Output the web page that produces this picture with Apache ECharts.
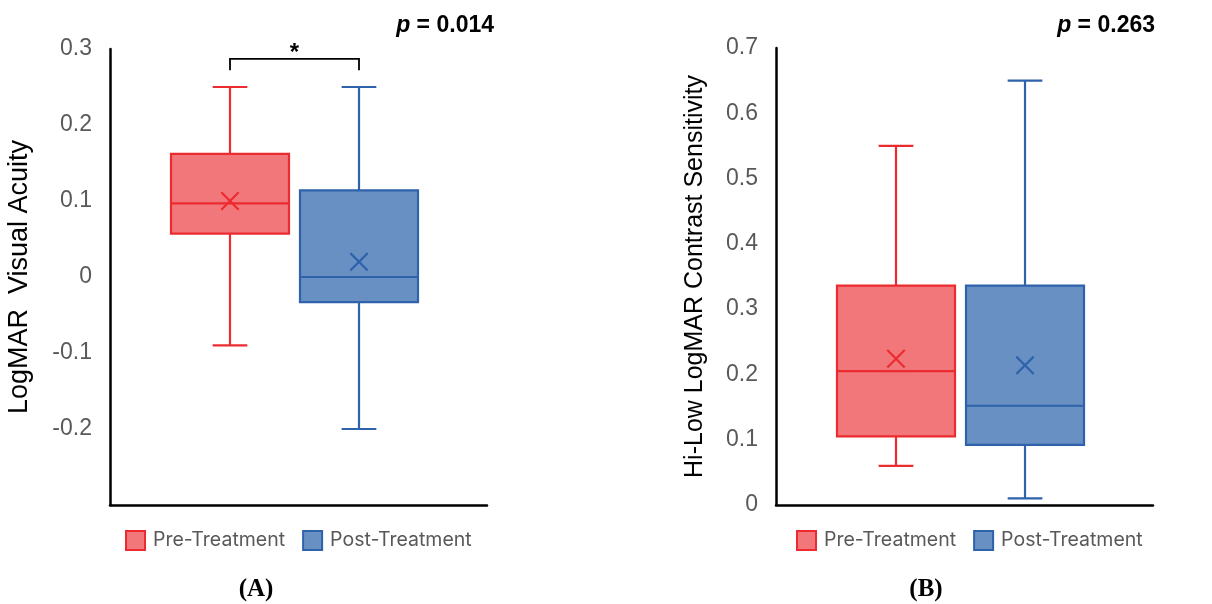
<!DOCTYPE html>
<html>
<head>
<meta charset="utf-8">
<script src="https://cdn.jsdelivr.net/npm/echarts@6/dist/echarts.min.js"></script>
<style>
html,body{margin:0;padding:0;background:#fff;}
#chart{width:1212px;height:604px;}
</style>
</head>
<body>
<div id="chart"></div>
<script>
// ---------- data ----------
const groups = ['Pre-Treatment', 'Post-Treatment'];
// each: [min, Q1, median, Q3, max, mean]
const acuityPre = [-0.09, 0.057, 0.097, 0.162, 0.25, 0.10];
const acuityPost = [-0.20, -0.033, 0.0, 0.114, 0.25, 0.02];
const contrastPre = [0.06, 0.105, 0.205, 0.336, 0.55, 0.224];
const contrastPost = [0.01, 0.092, 0.152, 0.336, 0.65, 0.214];
const acuityTickLabels = ['-0.2', '-0.1', '0', '0.1', '0.2', '0.3'];
const contrastTickLabels = ['0', '0.1', '0.2', '0.3', '0.4', '0.5', '0.6', '0.7'];
const acuityRange = [-0.3, 0.3];
const contrastRange = [0, 0.7];
const tickStep = 0.1;
const yTitles = ['LogMAR  Visual Acuity', 'Hi-Low LogMAR Contrast Sensitivity'];
const pValues = ['0.014', '0.263'];
const panelLabels = ['(A)', '(B)'];
// significance bracket: [bottom of ends, top bar] in LogMAR units
const bracketLevels = [0.272, 0.287];
const bracketMark = '*';

// ---------- styles ----------
const fills = ['#F2777A', '#6990C3'];
const borders = ['#EC2B30', '#2E62AA'];
const offsets = [-0.1817, 0.1605];   // box centre offset as fraction of band
const halfBox = 0.1565;
const halfCap = 0.046;
const halfX = 0.023;

function boxRender(gi) {
  return function (params, api) {
    const band = api.size([1, 0])[0];
    const cx = api.coord([0, 0])[0] + band * offsets[gi];
    const y = i => api.coord([0, api.value(i)])[1];
    const yMin = y(1), yQ1 = y(2), yMed = y(3), yQ3 = y(4), yMax = y(5), yMean = y(6);
    const hb = band * halfBox, hc = band * halfCap, hx = band * halfX;
    const ls = {stroke: borders[gi], lineWidth: 2.2};
    return {
      type: 'group',
      children: [
        {type: 'line', shape: {x1: cx, y1: yQ3, x2: cx, y2: yMax}, style: ls},
        {type: 'line', shape: {x1: cx - hc, y1: yMax, x2: cx + hc, y2: yMax}, style: ls},
        {type: 'line', shape: {x1: cx, y1: yQ1, x2: cx, y2: yMin}, style: ls},
        {type: 'line', shape: {x1: cx - hc, y1: yMin, x2: cx + hc, y2: yMin}, style: ls},
        {type: 'rect', shape: {x: cx - hb, y: yQ3, width: 2 * hb, height: yQ1 - yQ3},
          style: {fill: fills[gi], stroke: borders[gi], lineWidth: 2.2}},
        {type: 'line', shape: {x1: cx - hb, y1: yMed, x2: cx + hb, y2: yMed}, style: ls},
        {type: 'line', shape: {x1: cx - hx, y1: yMean - hx, x2: cx + hx, y2: yMean + hx}, style: ls},
        {type: 'line', shape: {x1: cx - hx, y1: yMean + hx, x2: cx + hx, y2: yMean - hx}, style: ls}
      ]
    };
  };
}

function bracketRender(params, api) {
  const band = api.size([1, 0])[0];
  const c0 = api.coord([0, 0])[0];
  const x1 = c0 + band * offsets[0], x2 = c0 + band * offsets[1];
  const yb = api.coord([0, api.value(1)])[1];
  const yt = api.coord([0, api.value(2)])[1];
  return {
    type: 'group',
    children: [
      {type: 'polyline', shape: {points: [[x1, yb], [x1, yt], [x2, yt], [x2, yb]]},
        style: {stroke: '#000', lineWidth: 1.8, fill: 'none'}},
      {type: 'text', x: (x1 + x2) / 2, y: yt + 6,
        style: {text: bracketMark, fontSize: 24, fontWeight: 'bold', fontFamily: 'Liberation Sans, Arial',
          fill: '#000', align: 'center', verticalAlign: 'bottom'}}
    ]
  };
}

function toRow(arr) { return [0].concat(arr); }

function tickFormatter(labels) {
  return function (v) {
    for (const l of labels) { if (Math.abs(parseFloat(l) - v) < 1e-6) return l; }
    return '';
  };
}

const axisFont = {color: '#595959', fontSize: 23, fontFamily: 'Liberation Sans, Arial', margin: 18};
const grids = [
  {left: 110, top: 49, width: 377, height: 456},
  {left: 776, top: 48, width: 377, height: 457}
];

const xAxes = grids.map((g, i) => ({
  type: 'category', gridIndex: i, data: [''],
  axisLine: {onZero: false, lineStyle: {color: '#000', width: 2.5}},
  axisTick: {show: false}, axisLabel: {show: false}, splitLine: {show: false}
}));

const ranges = [acuityRange, contrastRange];
const tickLabelSets = [acuityTickLabels, contrastTickLabels];
const yAxes = grids.map((g, i) => ({
  type: 'value', gridIndex: i, min: ranges[i][0], max: ranges[i][1], interval: tickStep,
  axisLine: {show: true, lineStyle: {color: '#000', width: 2.5}},
  axisTick: {show: false}, splitLine: {show: false},
  axisLabel: Object.assign({formatter: tickFormatter(tickLabelSets[i])}, axisFont),
  name: yTitles[i], nameLocation: 'middle', nameRotate: 90,
  nameGap: i === 0 ? 77 : 68,
  nameTextStyle: {color: '#000', fontSize: i === 0 ? 27 : 25, fontFamily: 'Liberation Sans, Arial'}
}));

const datasets = [[acuityPre, acuityPost], [contrastPre, contrastPost]];
const series = [];
datasets.forEach((pair, gi) => {
  pair.forEach((arr, si) => {
    series.push({
      type: 'custom', name: groups[si], xAxisIndex: gi, yAxisIndex: gi,
      renderItem: boxRender(si),
      itemStyle: {color: fills[si], borderColor: borders[si], borderWidth: 2},
      encode: {x: 0, y: [1, 2, 3, 4, 5, 6]},
      data: [toRow(arr)]
    });
  });
});
series.push({
  type: 'custom', name: 'bracket', xAxisIndex: 0, yAxisIndex: 0,
  renderItem: bracketRender, encode: {x: 0, y: [1, 2]}, silent: true,
  data: [[0, bracketLevels[0], bracketLevels[1]]]
});

const legendData = groups.map((n, i) => ({
  name: n, icon: 'rect',
  itemStyle: {color: fills[i], borderColor: borders[i], borderWidth: 2}
}));
const legendCommon = {
  orient: 'horizontal', itemWidth: 19, itemHeight: 19, itemGap: 17,
  textStyle: {color: '#595959', fontSize: 19.5, fontFamily: 'Inter, Noto Sans, sans-serif', padding: [0, 0, 0, 3]},
  data: legendData, selectedMode: false
};

const chart = echarts.init(document.getElementById('chart'));
chart.setOption({
  backgroundColor: '#fff',
  animation: false,
  grid: grids,
  xAxis: xAxes,
  yAxis: yAxes,
  legend: [
    Object.assign({left: 120, top: 525}, legendCommon),
    Object.assign({left: 791, top: 525}, legendCommon)
  ],
  graphic: [
    {type: 'text', x: 494, y: 26, style: {
      text: '{i|p} = ' + pValues[0], rich: {i: {fontStyle: 'italic', fontWeight: 'bold', fontSize: 23, fontFamily: 'Liberation Sans, Arial', fill: '#000'}},
      fontSize: 23, fontWeight: 'bold', fontFamily: 'Liberation Sans, Arial', fill: '#000', align: 'right', verticalAlign: 'middle'}},
    {type: 'text', x: 1155, y: 26, style: {
      text: '{i|p} = ' + pValues[1], rich: {i: {fontStyle: 'italic', fontWeight: 'bold', fontSize: 23, fontFamily: 'Liberation Sans, Arial', fill: '#000'}},
      fontSize: 23, fontWeight: 'bold', fontFamily: 'Liberation Sans, Arial', fill: '#000', align: 'right', verticalAlign: 'middle'}},
    {type: 'text', x: 256, y: 590, style: {text: panelLabels[0], fontSize: 25, fontWeight: 'bold',
      fontFamily: 'Liberation Serif, Times New Roman, serif', fill: '#000', align: 'center', verticalAlign: 'middle'}},
    {type: 'text', x: 926, y: 590, style: {text: panelLabels[1], fontSize: 25, fontWeight: 'bold',
      fontFamily: 'Liberation Serif, Times New Roman, serif', fill: '#000', align: 'center', verticalAlign: 'middle'}}
  ],
  series: series
});
</script>
</body>
</html>
